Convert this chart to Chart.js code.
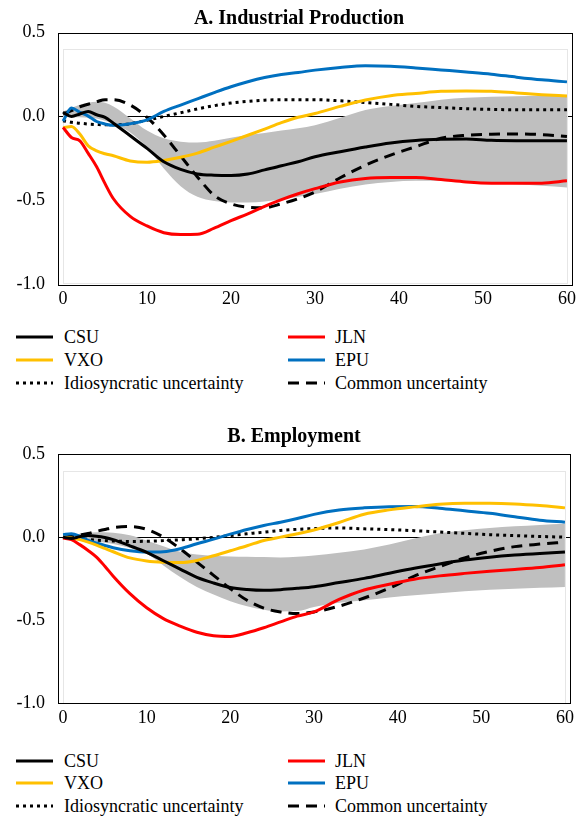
<!DOCTYPE html>
<html>
<head>
<meta charset="utf-8">
<script src="https://cdn.jsdelivr.net/npm/chart.js@4.4.1/dist/chart.umd.min.js"></script>
<style>
  body { margin: 0; width: 578px; height: 817px; position: relative; background: #fff; overflow: hidden; }
  canvas { position: absolute; left: 0; }
  .leg { position: absolute; height: 22px; line-height: 22px; font-family: 'Liberation Serif', 'Times New Roman', serif; font-size: 18px; color: #000; white-space: nowrap; }
  .leg svg { position: absolute; left: 0; top: 8px; }
  .leg span { position: absolute; top: 0; }
</style>
</head>
<body>
<canvas id="chartA" width="588" height="314" style="top:0px"></canvas>
<canvas id="chartB" width="578" height="323" style="top:410px"></canvas>
<div id="legends"></div>
<script>
// horizons (months after the shock)
var horizons = [0, 1, 2, 3, 4, 5, 6, 8, 10, 12, 14, 16, 18, 20, 22, 24, 26, 28, 30, 33, 36, 39, 42, 45, 48, 51, 54, 57, 60];
var xTicks = [0, 10, 20, 30, 40, 50, 60];

// A. Industrial Production
var csuIP = [0.025, 0.0, 0.015, 0.03, 0.01, -0.005, -0.04, -0.115, -0.19, -0.27, -0.315, -0.342, -0.35, -0.352, -0.343, -0.318, -0.293, -0.27, -0.24, -0.21, -0.182, -0.158, -0.143, -0.136, -0.134, -0.142, -0.144, -0.144, -0.144];
var jlnIP = [-0.065, -0.125, -0.145, -0.22, -0.30, -0.40, -0.49, -0.595, -0.652, -0.692, -0.703, -0.702, -0.665, -0.62, -0.58, -0.535, -0.495, -0.46, -0.43, -0.39, -0.369, -0.364, -0.364, -0.376, -0.39, -0.397, -0.397, -0.397, -0.383];
var vxoIP = [-0.068, -0.06, -0.105, -0.175, -0.205, -0.222, -0.234, -0.265, -0.273, -0.262, -0.243, -0.218, -0.183, -0.148, -0.112, -0.075, -0.037, -0.005, 0.018, 0.06, 0.098, 0.124, 0.137, 0.15, 0.152, 0.15, 0.14, 0.13, 0.122];
var epuIP = [-0.028, 0.05, 0.025, 0.002, -0.03, -0.045, -0.053, -0.043, -0.02, 0.03, 0.068, 0.105, 0.142, 0.177, 0.207, 0.232, 0.25, 0.262, 0.276, 0.292, 0.302, 0.299, 0.289, 0.277, 0.265, 0.252, 0.234, 0.218, 0.206];
var idioIP = [-0.025, -0.035, -0.04, -0.045, -0.048, -0.05, -0.05, -0.043, -0.022, 0.0, 0.022, 0.045, 0.064, 0.08, 0.09, 0.097, 0.1, 0.1, 0.1, 0.093, 0.083, 0.072, 0.06, 0.053, 0.046, 0.042, 0.04, 0.04, 0.04];
var commonIP = [0.015, 0.035, 0.058, 0.073, 0.088, 0.1, 0.1, 0.068, -0.005, -0.11, -0.235, -0.36, -0.47, -0.52, -0.54, -0.543, -0.52, -0.49, -0.45, -0.365, -0.29, -0.23, -0.18, -0.13, -0.112, -0.106, -0.104, -0.108, -0.12];
var bandHiIP = [0.03, 0.05, 0.07, 0.082, 0.087, 0.082, 0.06, -0.01, -0.084, -0.13, -0.15, -0.155, -0.145, -0.127, -0.11, -0.098, -0.084, -0.07, -0.052, -0.008, 0.038, 0.063, 0.08, 0.1, 0.112, 0.118, 0.12, 0.123, 0.126];
var bandLoIP = [0.0, -0.005, -0.005, -0.008, -0.012, -0.025, -0.045, -0.095, -0.184, -0.31, -0.415, -0.478, -0.503, -0.512, -0.513, -0.507, -0.495, -0.478, -0.462, -0.43, -0.405, -0.39, -0.383, -0.383, -0.39, -0.396, -0.404, -0.413, -0.423];

// B. Employment
var csuEMP = [0.0, -0.008, 0.003, 0.01, 0.006, -0.002, -0.015, -0.052, -0.092, -0.142, -0.192, -0.242, -0.276, -0.303, -0.315, -0.32, -0.316, -0.308, -0.298, -0.273, -0.248, -0.217, -0.187, -0.161, -0.138, -0.121, -0.108, -0.098, -0.09];
var jlnEMP = [-0.005, -0.015, -0.045, -0.08, -0.12, -0.175, -0.235, -0.34, -0.425, -0.49, -0.535, -0.572, -0.593, -0.597, -0.575, -0.545, -0.51, -0.475, -0.45, -0.375, -0.318, -0.283, -0.253, -0.233, -0.218, -0.205, -0.194, -0.182, -0.166];
var vxoEMP = [0.0, -0.005, -0.015, -0.03, -0.048, -0.068, -0.088, -0.125, -0.143, -0.151, -0.153, -0.14, -0.112, -0.082, -0.052, -0.02, 0.0, 0.02, 0.043, 0.088, 0.138, 0.164, 0.182, 0.198, 0.204, 0.204, 0.2, 0.19, 0.176];
var epuEMP = [0.015, 0.02, 0.005, -0.02, -0.035, -0.05, -0.064, -0.082, -0.09, -0.088, -0.07, -0.04, -0.012, 0.018, 0.046, 0.07, 0.09, 0.112, 0.137, 0.163, 0.176, 0.183, 0.184, 0.174, 0.158, 0.143, 0.122, 0.102, 0.09];
var idioEMP = [0.0, -0.005, -0.01, -0.014, -0.018, -0.021, -0.023, -0.026, -0.025, -0.021, -0.016, -0.01, -0.001, 0.01, 0.02, 0.03, 0.04, 0.047, 0.052, 0.055, 0.05, 0.045, 0.039, 0.031, 0.023, 0.015, 0.009, 0.004, 0.0];
var commonEMP = [0.0, 0.005, 0.013, 0.022, 0.035, 0.046, 0.057, 0.064, 0.047, 0.0, -0.07, -0.15, -0.23, -0.31, -0.38, -0.427, -0.45, -0.46, -0.45, -0.415, -0.366, -0.307, -0.235, -0.178, -0.125, -0.086, -0.057, -0.042, -0.03];
var bandHiEMP = [0.004, 0.012, 0.02, 0.026, 0.029, 0.03, 0.027, 0.012, -0.02, -0.055, -0.088, -0.105, -0.112, -0.116, -0.118, -0.12, -0.122, -0.118, -0.11, -0.094, -0.074, -0.045, -0.008, 0.023, 0.042, 0.055, 0.065, 0.073, 0.08];
var bandLoEMP = [-0.01, -0.013, -0.017, -0.022, -0.027, -0.034, -0.042, -0.065, -0.1, -0.17, -0.24, -0.3, -0.345, -0.385, -0.415, -0.437, -0.447, -0.445, -0.42, -0.395, -0.38, -0.363, -0.35, -0.338, -0.326, -0.317, -0.31, -0.305, -0.3];

var names = ["CSU", "JLN", "VXO", "EPU", "Idiosyncratic uncertainty", "Common uncertainty"];
var colors = {
  "CSU": "#000000",
  "JLN": "#ff0000",
  "VXO": "#ffc000",
  "EPU": "#0070c0",
  "Idiosyncratic uncertainty": "#000000",
  "Common uncertainty": "#000000"
};
var dashes = {
  "Idiosyncratic uncertainty": [3, 4],
  "Common uncertainty": [11, 7]
};

Chart.defaults.font.family = "'Liberation Serif', 'Times New Roman', serif";
Chart.defaults.color = "#000";

function pts(values) {
  return horizons.map(function (h, i) { return {x: h, y: values[i]}; });
}

// black frame round the plot and the faint inner plot box
var framePlugin = {
  id: "frame",
  beforeDatasetsDraw: function (chart) {
    var ctx = chart.ctx, a = chart.chartArea, x = chart.scales.x, y = chart.scales.y;
    var x0 = x.getPixelForValue(0), x1 = x.getPixelForValue(60), y0 = y.getPixelForValue(0.4);
    ctx.save();
    ctx.strokeStyle = "#e6e6e6";
    ctx.lineWidth = 1;
    ctx.strokeRect(Math.round(x0) + 0.5, Math.round(y0) + 0.5, Math.round(x1 - x0), Math.round(a.bottom - y0) - 1);
    ctx.restore();
  },
  afterDraw: function (chart) {
    var ctx = chart.ctx, a = chart.chartArea;
    ctx.save();
    ctx.strokeStyle = "#000";
    ctx.lineWidth = 1;
    ctx.strokeRect(Math.round(a.left) + 0.5, Math.round(a.top) + 0.5, Math.round(a.right - a.left), Math.round(a.bottom - a.top));
    ctx.restore();
  }
};

function makeChart(id, title, series, bandLo, bandHi, cfg) {
  var datasets = [];
  for (var i = 0; i < names.length; i++) {
    datasets.push({
      label: names[i],
      data: pts(series[i]),
      borderColor: colors[names[i]],
      borderWidth: 3,
      borderDash: dashes[names[i]] || [],
      pointRadius: 0,
      fill: false,
      cubicInterpolationMode: "monotone",
      order: i
    });
  }
  datasets.push({
    label: "band low",
    data: pts(bandLo),
    borderWidth: 0,
    pointRadius: 0,
    fill: false,
    cubicInterpolationMode: "monotone",
    order: 20
  });
  datasets.push({
    label: "band high",
    data: pts(bandHi),
    borderWidth: 0,
    pointRadius: 0,
    backgroundColor: "#bfbfbf",
    fill: "-1",
    cubicInterpolationMode: "monotone",
    order: 21
  });

  return new Chart(id, {
    type: "line",
    data: {datasets: datasets},
    plugins: [framePlugin],
    options: {
      responsive: false,
      animation: false,
      layout: {padding: {left: 10, right: 0, top: 0, bottom: 0}},
      plugins: {
        legend: {display: false},
        tooltip: {enabled: false},
        title: {
          display: true,
          text: title,
          color: "#000",
          font: {size: 20, weight: "bold"},
          padding: {top: cfg.titleTop, bottom: cfg.titleBottom}
        }
      },
      scales: {
        x: {
          type: "linear",
          min: -0.6,
          max: 60.6,
          afterBuildTicks: function (scale) {
            scale.ticks = xTicks.map(function (v) { return {value: v}; });
          },
          grid: {display: false, drawTicks: false},
          border: {display: false},
          ticks: {font: {size: 18}, padding: 4, maxRotation: 0}
        },
        y: {
          min: -1,
          max: 0.5,
          afterFit: function (scale) { scale.width = 48; },
          grid: {
            drawTicks: false,
            lineWidth: 1,
            color: function (c) { return c.tick.value === 0 ? "#000" : "rgba(0,0,0,0)"; }
          },
          border: {display: false},
          ticks: {
            stepSize: 0.5,
            font: {size: 18},
            padding: 13,
            callback: function (v) { return Number(v).toFixed(1); }
          }
        },
        // empty right-hand strip, only there to set the plot's right edge
        yRight: {
          position: "right",
          display: true,
          min: -1,
          max: 0.5,
          afterFit: function (scale) { scale.width = cfg.rightGap; },
          grid: {display: false, drawTicks: false},
          border: {display: false},
          ticks: {display: false}
        }
      }
    }
  });
}

makeChart("chartA", "A. Industrial Production",
  [csuIP, jlnIP, vxoIP, epuIP, idioIP, commonIP], bandLoIP, bandHiIP,
  {rightGap: 16, titleTop: 7, titleBottom: 1.5});
makeChart("chartB", "B. Employment",
  [csuEMP, jlnEMP, vxoEMP, epuEMP, idioEMP, commonEMP], bandLoEMP, bandHiEMP,
  {rightGap: 6, titleTop: 15, titleBottom: 5});

// legends below each panel, two columns
function addLegend(rowCenters) {
  var holder = document.getElementById("legends");
  var cols = [{line: 16, text: 64}, {line: 288, text: 335}];
  for (var i = 0; i < names.length; i++) {
    var col = cols[i % 2];
    var row = Math.floor(i / 2);
    var name = names[i];
    var div = document.createElement("div");
    div.className = "leg";
    div.style.left = col.line + "px";
    div.style.top = (rowCenters[row] - 11) + "px";
    div.style.width = "260px";
    var dash = dashes[name] ? ' stroke-dasharray="' + dashes[name].join(",") + '"' : "";
    div.innerHTML = '<svg width="38" height="6"><line x1="0" y1="3" x2="37" y2="3" stroke="' + colors[name] +
      '" stroke-width="3"' + dash + '/></svg><span style="left:' + (col.text - col.line) + 'px">' + name + '</span>';
    holder.appendChild(div);
  }
}
addLegend([337, 360, 383]);
addLegend([761, 783, 806]);
</script>
</body>
</html>
